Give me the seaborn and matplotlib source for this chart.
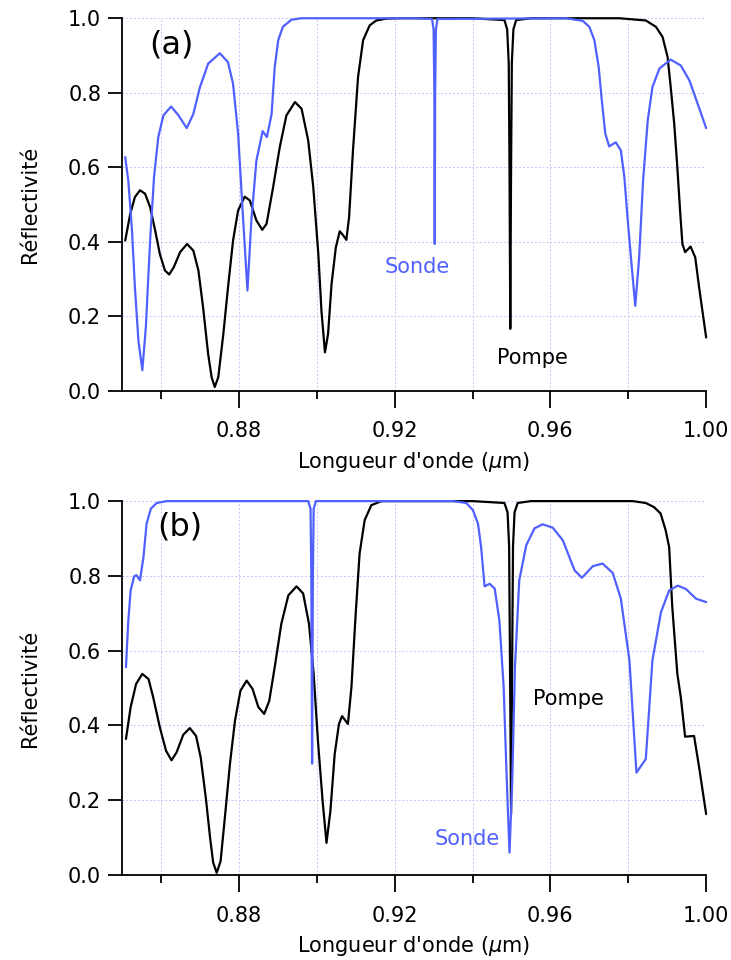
import numpy as np
import pandas as pd
import matplotlib
matplotlib.use("Agg")
import matplotlib.pyplot as plt
import seaborn as sns

# panel (a): pump (black) and probe (blue)
pompe_a_x = [0.8508, 0.8521, 0.8533, 0.8546, 0.8559, 0.8572, 0.8585, 0.8597, 0.8610, 0.8621,
             0.8633, 0.8649, 0.8667, 0.8683, 0.8696, 0.8708, 0.8721, 0.8730, 0.8738, 0.8747,
             0.8760, 0.8772, 0.8785, 0.8798, 0.8815, 0.8828, 0.8845, 0.8860, 0.8871, 0.8888,
             0.8905, 0.8922, 0.8944, 0.8961, 0.8978, 0.8991, 0.9004, 0.9012, 0.9021, 0.9029,
             0.9038, 0.9049, 0.9059, 0.9068, 0.9076, 0.9083, 0.9093, 0.9106, 0.9119, 0.9136,
             0.9153, 0.9179, 0.9220, 0.9400, 0.9482, 0.9489, 0.9493, 0.9495, 0.9497, 0.9499,
             0.9501, 0.9505, 0.9512, 0.9550, 0.9777, 0.9845, 0.9871, 0.9888, 0.9901, 0.9909,
             0.9918, 0.9926, 0.9933, 0.9939, 0.9946, 0.9960, 0.9972, 0.9982, 1.0000]
pompe_a_y = [0.403, 0.475, 0.520, 0.538, 0.529, 0.493, 0.430, 0.367, 0.323, 0.312,
             0.332, 0.372, 0.394, 0.376, 0.323, 0.224, 0.099, 0.036, 0.010, 0.036,
             0.152, 0.277, 0.403, 0.484, 0.521, 0.511, 0.457, 0.432, 0.448, 0.547,
             0.654, 0.739, 0.775, 0.757, 0.672, 0.547, 0.367, 0.215, 0.103, 0.152,
             0.287, 0.385, 0.428, 0.417, 0.405, 0.466, 0.645, 0.842, 0.941, 0.981,
             0.994, 0.999, 1.0, 1.0, 0.995, 0.97, 0.88, 0.60, 0.166, 0.60,
             0.88, 0.97, 0.995, 1.0, 1.0, 0.994, 0.977, 0.950, 0.896, 0.815,
             0.717, 0.600, 0.484, 0.394, 0.372, 0.387, 0.358, 0.277, 0.143]

sonde_a_x = [0.8508, 0.8516, 0.8525, 0.8533, 0.8542, 0.8552, 0.8561, 0.8572, 0.8582, 0.8593,
             0.8606, 0.8626, 0.8645, 0.8666, 0.8683, 0.8700, 0.8721, 0.8751, 0.8772, 0.8785,
             0.8798, 0.8809, 0.8822, 0.8832, 0.8845, 0.8861, 0.8872, 0.8884, 0.8892, 0.8901,
             0.8913, 0.8935, 0.8960, 0.9250, 0.9296, 0.9300, 0.9302, 0.9303, 0.9304, 0.9306,
             0.9310, 0.9640, 0.9683, 0.9700, 0.9713, 0.9724, 0.9732, 0.9741, 0.9751, 0.9768,
             0.9781, 0.9790, 0.9798, 0.9809, 0.9818, 0.9828, 0.9838, 0.9850, 0.9862, 0.9880,
             0.9909, 0.9935, 0.9957, 0.9978, 1.0000]
sonde_a_y = [0.627, 0.564, 0.439, 0.277, 0.134, 0.055, 0.170, 0.403, 0.573, 0.681,
             0.739, 0.763, 0.739, 0.705, 0.743, 0.815, 0.878, 0.906, 0.882, 0.824,
             0.690, 0.493, 0.269, 0.457, 0.618, 0.697, 0.681, 0.743, 0.869, 0.941,
             0.977, 0.996, 1.0, 1.0, 0.998, 0.97, 0.80, 0.394, 0.80, 0.97,
             0.998, 1.0, 0.993, 0.977, 0.941, 0.869, 0.780, 0.690, 0.656, 0.667,
             0.645, 0.573, 0.466, 0.332, 0.228, 0.358, 0.564, 0.726, 0.815, 0.865,
             0.889, 0.873, 0.833, 0.771, 0.705]

# panel (b)
pompe_b_x = [0.8510, 0.8522, 0.8536, 0.8552, 0.8568, 0.8580, 0.8597, 0.8613, 0.8627, 0.8640,
             0.8657, 0.8674, 0.8690, 0.8702, 0.8715, 0.8726, 0.8734, 0.8743, 0.8753, 0.8764,
             0.8777, 0.8790, 0.8804, 0.8820, 0.8835, 0.8850, 0.8865, 0.8878, 0.8892, 0.8909,
             0.8927, 0.8948, 0.8965, 0.8980, 0.8992, 0.9003, 0.9015, 0.9025, 0.9035, 0.9046,
             0.9057, 0.9065, 0.9080, 0.9089, 0.9100, 0.9110, 0.9123, 0.9140, 0.9166, 0.9400,
             0.9482, 0.9490, 0.9494, 0.9496, 0.9499, 0.9502, 0.9504, 0.9508, 0.9516, 0.9550,
             0.9811, 0.9845, 0.9866, 0.9883, 0.9896, 0.9905, 0.9913, 0.9926, 0.9935, 0.9946,
             0.9969, 0.9982, 1.0000]
pompe_b_y = [0.364, 0.449, 0.511, 0.538, 0.524, 0.475, 0.395, 0.332, 0.307, 0.328,
             0.375, 0.393, 0.372, 0.314, 0.207, 0.100, 0.033, 0.006, 0.037, 0.154,
             0.297, 0.413, 0.493, 0.520, 0.498, 0.449, 0.431, 0.466, 0.556, 0.672,
             0.748, 0.772, 0.753, 0.672, 0.538, 0.359, 0.198, 0.086, 0.171, 0.323,
             0.404, 0.425, 0.404, 0.502, 0.699, 0.860, 0.949, 0.989, 1.0, 1.0,
             0.995, 0.97, 0.88, 0.60, 0.163, 0.60, 0.88, 0.97, 0.995, 1.0,
             1.0, 0.995, 0.984, 0.967, 0.922, 0.877, 0.717, 0.538, 0.475, 0.370,
             0.372, 0.288, 0.163]

sonde_b_x = [0.8510, 0.8516, 0.8522, 0.8531, 0.8537, 0.8546, 0.8555, 0.8563, 0.8574, 0.8589,
             0.8615, 0.8978, 0.8984, 0.8986, 0.8988, 0.8990, 0.8992, 0.8998, 0.9350, 0.9384,
             0.9401, 0.9414, 0.9422, 0.9431, 0.9444, 0.9457, 0.9469, 0.9480, 0.9488, 0.9495,
             0.9502, 0.9509, 0.9520, 0.9538, 0.9559, 0.9580, 0.9606, 0.9632, 0.9662, 0.9681,
             0.9709, 0.9734, 0.9760, 0.9781, 0.9803, 0.9821, 0.9845, 0.9862, 0.9884, 0.9905,
             0.9927, 0.9948, 0.9974, 1.0000]
sonde_b_y = [0.556, 0.681, 0.761, 0.799, 0.802, 0.788, 0.851, 0.940, 0.980, 0.995,
             1.0, 1.0, 0.98, 0.80, 0.298, 0.80, 0.98, 1.0, 1.0, 0.995,
             0.976, 0.940, 0.878, 0.772, 0.779, 0.766, 0.681, 0.502, 0.252, 0.060,
             0.252, 0.556, 0.788, 0.882, 0.927, 0.938, 0.929, 0.895, 0.815, 0.795,
             0.826, 0.833, 0.808, 0.739, 0.574, 0.274, 0.310, 0.574, 0.703, 0.761,
             0.774, 0.765, 0.739, 0.730]

BLUE = "#5060ff"
GRID = "#c4c4fa"

sns.set_style("ticks")
plt.rcParams["font.family"] = ["DejaVu Sans"]
plt.rcParams["mathtext.fontset"] = "dejavusans"
plt.rcParams["text.color"] = "black"
plt.rcParams["axes.labelcolor"] = "black"
plt.rcParams["xtick.color"] = "black"
plt.rcParams["ytick.color"] = "black"
plt.rcParams["axes.edgecolor"] = "black"

fig = plt.figure(figsize=(7.31, 9.6), dpi=100)
ax_a = fig.add_axes([0.167, 0.593, 0.799, 0.388])
ax_b = fig.add_axes([0.167, 0.0885, 0.799, 0.3895])


def draw_panel(ax, px, py, sx, sy, tag, tag_xy, labels):
    sns.lineplot(x=px, y=py, ax=ax, color="black", lw=1.6, sort=False,
                 estimator=None, clip_on=False)
    sns.lineplot(x=sx, y=sy, ax=ax, color=BLUE, lw=1.6, sort=False,
                 estimator=None, clip_on=False)
    ax.set_xlim(0.85, 1.0)
    ax.set_ylim(0, 1.0)
    ax.set_xticks([0.88, 0.92, 0.96, 1.00])
    ax.set_xticklabels(["0.88", "0.92", "0.96", "1.00"])
    ax.set_xticks([0.86, 0.90, 0.94, 0.98], minor=True)
    ax.set_yticks([0, 0.2, 0.4, 0.6, 0.8, 1.0])
    ax.set_yticklabels(["0.0", "0.2", "0.4", "0.6", "0.8", "1.0"])
    ax.grid(True, which="both", color=GRID, ls=(0, (2, 2)), lw=0.7)
    ax.set_axisbelow(True)
    ax.tick_params(axis="x", which="major", length=12, width=1.3, labelsize=15, pad=10)
    ax.tick_params(axis="x", which="minor", length=6, width=1.3)
    ax.tick_params(axis="y", which="major", length=10, width=1.3, labelsize=15, pad=5)
    for side in ["top", "right"]:
        ax.spines[side].set_visible(False)
    for side in ["left", "bottom"]:
        ax.spines[side].set_linewidth(1.3)
    ax.set_xlabel("Longueur d'onde ($\\mu$m)", fontsize=15, labelpad=6)
    ax.set_ylabel("Réflectivité", fontsize=15, labelpad=20)
    ax.text(tag_xy[0], tag_xy[1], tag, fontsize=23, ha="center", va="center")
    for (txt, x, y, c) in labels:
        ax.text(x, y, txt, fontsize=15, color=c, ha="center", va="center")


draw_panel(ax_a, pompe_a_x, pompe_a_y, sonde_a_x, sonde_a_y, "(a)", (0.8628, 0.927),
           [("Sonde", 0.9259, 0.331, BLUE), ("Pompe", 0.9554, 0.089, "black")])
draw_panel(ax_b, pompe_b_x, pompe_b_y, sonde_b_x, sonde_b_y, "(b)", (0.8649, 0.930),
           [("Pompe", 0.9646, 0.472, "black"), ("Sonde", 0.9387, 0.097, BLUE)])

fig.savefig("out.png", dpi=100)
